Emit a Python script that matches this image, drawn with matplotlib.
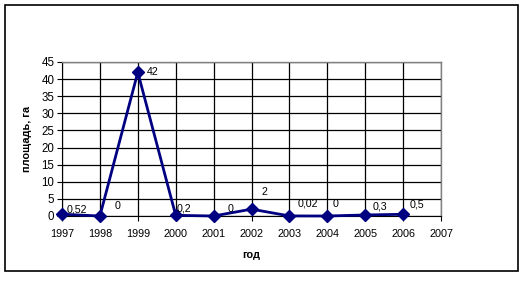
import matplotlib
matplotlib.use("Agg")
import matplotlib.pyplot as plt
from matplotlib.patches import Rectangle

years = [1997, 1998, 1999, 2000, 2001, 2002, 2003, 2004, 2005, 2006]
area = [0.52, 0, 42, 0.2, 0, 2, 0.02, 0, 0.3, 0.5]
labels = ["0,52", "0", "42", "0,2", "0", "2", "0,02", "0", "0,3", "0,5"]
yticks = [0, 5, 10, 15, 20, 25, 30, 35, 40, 45]
xticks = list(range(1997, 2008))

# label offsets in pixels (left edge dx, center dy upward) — style only
label_dx = [5, 15, 9, 1, 14, 10, 8, 5, 7, 7]
label_dy = [5, 10, 0, 7, 7, 17, 12, 12, 8, 10]

plt.rcParams['font.family'] = ['Liberation Sans', 'DejaVu Sans']

fig = plt.figure(figsize=(5.24, 2.81), dpi=100)
fig.patches.append(Rectangle((5/524, 1-271/281), 513/524, 266/281, transform=fig.transFigure,
                             fill=False, edgecolor='black', linewidth=1.2))

ax = fig.add_axes([62/524, 1-216/281, 379/524, 154/281])
ax.set_xlim(1997, 2007)
ax.set_ylim(0, 45)
ax.set_xticks(xticks)
ax.set_yticks(yticks)
ax.set_xticklabels([str(x) for x in xticks], fontsize=7.8)
ax.set_yticklabels([str(y) for y in yticks], fontsize=8.3)
ax.grid(True, color='black', linewidth=0.9)
ax.set_axisbelow(True)
for s in ['top', 'right']:
    ax.spines[s].set_color('gray')
    ax.spines[s].set_linewidth(1)
ax.spines['left'].set_color('black')
ax.spines['bottom'].set_color('black')
ax.tick_params(axis='both', length=3.5, direction='out', pad=2)
ax.tick_params(axis='x', pad=6)

ax.plot(years, area, color='#000080', linewidth=2, marker='D', markersize=6.5,
        clip_on=False, zorder=5)
for x, y, t, dx, dy in zip(years, area, labels, label_dx, label_dy):
    ax.annotate(t, (x, y), xytext=(dx * 0.72, dy * 0.72), textcoords='offset points',
                fontsize=7.7, ha='left', va='center', zorder=6)

ax.set_xlabel('год', fontsize=7.8, fontweight='bold', labelpad=8)
ax.set_ylabel('площадь, га', fontsize=7.8, fontweight='bold', labelpad=7)

fig.savefig('out.png', dpi=100)
